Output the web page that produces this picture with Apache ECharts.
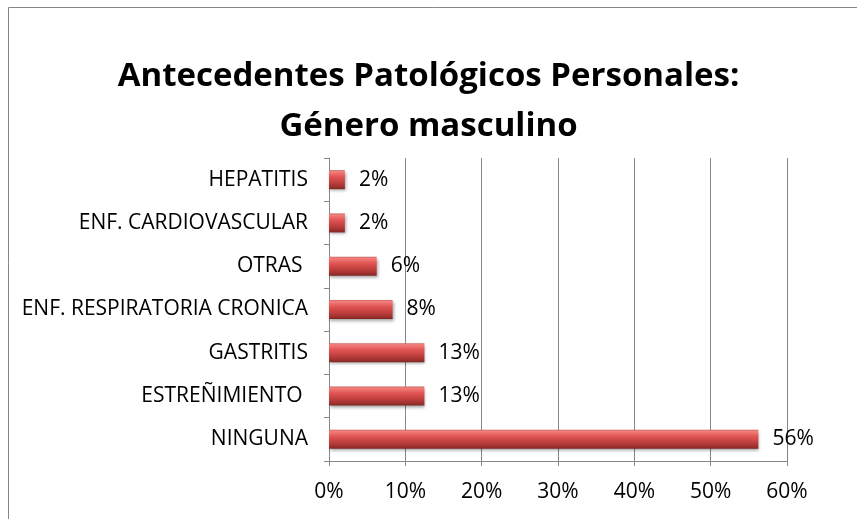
<!DOCTYPE html>
<html>
<head>
<meta charset="utf-8">
<script src="https://cdn.jsdelivr.net/npm/echarts@6/dist/echarts.min.js"></script>
<style>
  html, body { margin: 0; padding: 0; background: #fff; }
  #chart { width: 857px; height: 519px; }
</style>
</head>
<body>
<div id="chart"></div>
<script>
// categorias de abajo hacia arriba (como en el eje)
const categories = ['NINGUNA', 'ESTREÑIMIENTO ', 'GASTRITIS', 'ENF. RESPIRATORIA CRONICA', 'OTRAS ', 'ENF. CARDIOVASCULAR', 'HEPATITIS']
const values = [56.25, 12.5, 12.5, 8.33, 6.25, 2.08, 2.08]
const valueLabels = ['56%', '13%', '13%', '8%', '6%', '2%', '2%']
const xTicks = [0, 10, 20, 30, 40, 50, 60]

const font = '"Open Sans", sans-serif'
const chart = echarts.init(document.getElementById('chart'))

chart.setOption({
  backgroundColor: '#fff',
  animation: false,
  title: {
    text: 'Antecedentes Patológicos Personales:\nGénero masculino',
    left: 'center',
    top: 47,
    textStyle: {
      fontFamily: font,
      fontWeight: 'bold',
      fontSize: 33,
      lineHeight: 50,
      color: '#000'
    }
  },
  graphic: [{
    type: 'rect',
    shape: { x: 8.5, y: 7.5, width: 900, height: 600 },
    style: { fill: 'none', stroke: '#868686', lineWidth: 1 },
    silent: true
  }],
  grid: { left: 329, right: 70, top: 158, bottom: 58 },
  xAxis: {
    type: 'value',
    min: xTicks[0],
    max: xTicks[xTicks.length - 1],
    interval: 10,
    axisLine: { show: true, lineStyle: { color: '#868686' } },
    axisTick: { show: true, length: 5, lineStyle: { color: '#868686' } },
    splitLine: { show: true, lineStyle: { color: '#868686' } },
    axisLabel: {
      formatter: '{value}%',
      margin: 21,
      fontFamily: font,
      fontSize: 21,
      color: '#000'
    }
  },
  yAxis: {
    type: 'category',
    data: categories,
    axisLine: { show: true, lineStyle: { color: '#868686' } },
    axisTick: { show: true, length: 5, lineStyle: { color: '#868686' } },
    axisLabel: {
      margin: 21,
      fontFamily: font,
      fontSize: 21,
      color: '#000'
    }
  },
  series: [{
    type: 'bar',
    data: values,
    barWidth: 19,
    itemStyle: {
      color: new echarts.graphic.LinearGradient(0, 0, 0, 1, [
        { offset: 0, color: '#c96564' },
        { offset: 0.08, color: '#f47f7d' },
        { offset: 0.35, color: '#e05452' },
        { offset: 0.65, color: '#c0403e' },
        { offset: 0.9, color: '#9a2f2d' },
        { offset: 1, color: '#7a2422' }
      ]),
      shadowBlur: 3,
      shadowOffsetY: 2,
      shadowOffsetX: 1,
      shadowColor: 'rgba(0,0,0,0.35)'
    },
    label: {
      show: true,
      position: 'right',
      distance: 14,
      formatter: p => valueLabels[p.dataIndex],
      fontFamily: font,
      fontSize: 21,
      color: '#000'
    }
  }]
})
</script>
</body>
</html>
